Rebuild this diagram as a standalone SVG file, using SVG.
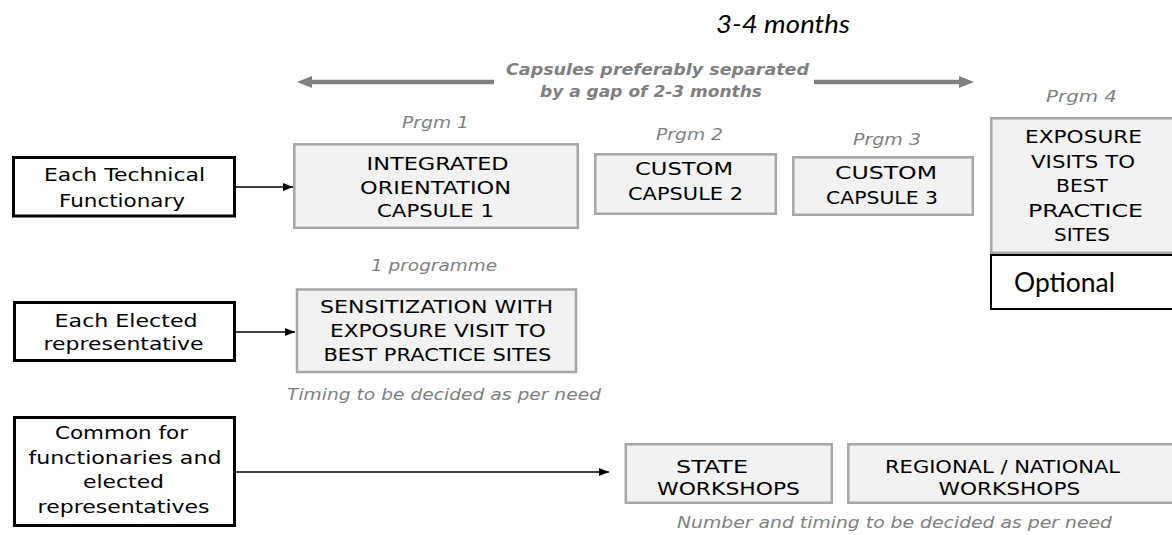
<svg xmlns="http://www.w3.org/2000/svg" width="1172" height="535" viewBox="0 0 1172 535">
<style>
.gbox{fill:#f2f2f2;stroke:#a6a6a6;stroke-width:2.5}
.wbox{fill:#ffffff;stroke:#000000;stroke-width:3}
.obox{fill:#ffffff;stroke:#000000;stroke-width:2}
.bt{font-family:"DejaVu Sans","Liberation Sans",sans-serif;font-size:18px;fill:#000000}
.lbl{font-family:"DejaVu Sans","Liberation Sans",sans-serif;font-style:italic;font-size:16.5px;fill:#7f7f7f}
.cap{font-family:"DejaVu Sans","Liberation Sans",sans-serif;font-style:italic;font-weight:bold;font-size:16px;fill:#7f7f7f}
.big{font-family:Lato,"Liberation Sans",sans-serif;font-style:italic;font-size:25px;fill:#000000}
.opt{font-family:Lato,"Liberation Sans",sans-serif;font-size:26px;fill:#000000}
.conn{stroke:#000000;stroke-width:1.5;fill:none}
.garr{stroke:#808080;stroke-width:4.5;fill:none}
</style>
<defs>
<marker id="ah" markerUnits="userSpaceOnUse" markerWidth="12" markerHeight="10" refX="10" refY="4" orient="auto">
<path d="M0,0 L10,4 L0,8 Z" fill="#000000"/>
</marker>
</defs>

<g id="timeline">
<text class="big" x="716" y="33" textLength="134" lengthAdjust="spacingAndGlyphs">3-4 months</text>
<line class="garr" x1="310" y1="82" x2="494" y2="82"/>
<polygon points="297,82 312,76 312,88" fill="#808080"/>
<line class="garr" x1="814" y1="82" x2="960" y2="82"/>
<polygon points="974,82 959,76 959,88" fill="#808080"/>
<text class="cap" x="506" y="75" textLength="303" lengthAdjust="spacingAndGlyphs">Capsules preferably separated</text>
<text class="cap" x="540" y="97" textLength="222" lengthAdjust="spacingAndGlyphs">by a gap of 2-3 months</text>
</g>

<g id="labels">
<text class="lbl" x="402" y="128" textLength="67" lengthAdjust="spacingAndGlyphs">Prgm 1</text>
<text class="lbl" x="656" y="140" textLength="67" lengthAdjust="spacingAndGlyphs">Prgm 2</text>
<text class="lbl" x="853" y="145" textLength="68" lengthAdjust="spacingAndGlyphs">Prgm 3</text>
<text class="lbl" x="1046" y="102" textLength="71" lengthAdjust="spacingAndGlyphs">Prgm 4</text>
<text class="lbl" x="371" y="271" textLength="126" lengthAdjust="spacingAndGlyphs">1 programme</text>
<text class="lbl" x="287" y="400" textLength="314" lengthAdjust="spacingAndGlyphs">Timing to be decided as per need</text>
<text class="lbl" x="677" y="528" textLength="435" lengthAdjust="spacingAndGlyphs">Number and timing to be decided as per need</text>
</g>

<g id="technical">
<rect class="wbox" x="13.5" y="157.5" width="221" height="58.5"/>
<text class="bt" x="44" y="181" textLength="161" lengthAdjust="spacingAndGlyphs">Each Technical</text>
<text class="bt" x="59" y="207" textLength="126" lengthAdjust="spacingAndGlyphs">Functionary</text>
</g>

<g id="elected">
<rect class="wbox" x="14.5" y="302.5" width="220" height="58"/>
<text class="bt" x="54.6" y="327" textLength="143" lengthAdjust="spacingAndGlyphs">Each Elected</text>
<text class="bt" x="43.5" y="350" textLength="160" lengthAdjust="spacingAndGlyphs">representative</text>
</g>

<g id="common">
<rect class="wbox" x="14.5" y="417.5" width="220" height="108"/>
<text class="bt" x="55" y="439" textLength="133" lengthAdjust="spacingAndGlyphs">Common for</text>
<text class="bt" x="28.5" y="463.5" textLength="193" lengthAdjust="spacingAndGlyphs">functionaries and</text>
<text class="bt" x="83" y="488" textLength="81" lengthAdjust="spacingAndGlyphs">elected</text>
<text class="bt" x="37.6" y="512.5" textLength="172" lengthAdjust="spacingAndGlyphs">representatives</text>
</g>

<g id="capsule1">
<rect class="gbox" x="294.3" y="144.3" width="283.5" height="83.5"/>
<text class="bt" x="366.6" y="170" textLength="142" lengthAdjust="spacingAndGlyphs">INTEGRATED</text>
<text class="bt" x="360" y="193.5" textLength="151" lengthAdjust="spacingAndGlyphs">ORIENTATION</text>
<text class="bt" x="377" y="217" textLength="117" lengthAdjust="spacingAndGlyphs">CAPSULE 1</text>
</g>

<g id="capsule2">
<rect class="gbox" x="595.3" y="154.3" width="180.5" height="59.5"/>
<text class="bt" x="635" y="175" textLength="98" lengthAdjust="spacingAndGlyphs">CUSTOM</text>
<text class="bt" x="628" y="200" textLength="115" lengthAdjust="spacingAndGlyphs">CAPSULE 2</text>
</g>

<g id="capsule3">
<rect class="gbox" x="793.3" y="157.3" width="179.5" height="57.5"/>
<text class="bt" x="835" y="179" textLength="102" lengthAdjust="spacingAndGlyphs">CUSTOM</text>
<text class="bt" x="826" y="204" textLength="112" lengthAdjust="spacingAndGlyphs">CAPSULE 3</text>
</g>

<g id="exposure">
<rect class="gbox" x="991.3" y="118.3" width="190" height="134.5"/>
<text class="bt" x="1025" y="143" textLength="117" lengthAdjust="spacingAndGlyphs">EXPOSURE</text>
<text class="bt" x="1031" y="167.5" textLength="104" lengthAdjust="spacingAndGlyphs">VISITS TO</text>
<text class="bt" x="1056" y="192" textLength="52" lengthAdjust="spacingAndGlyphs">BEST</text>
<text class="bt" x="1028" y="216.5" textLength="115" lengthAdjust="spacingAndGlyphs">PRACTICE</text>
<text class="bt" x="1054" y="241" textLength="56" lengthAdjust="spacingAndGlyphs">SITES</text>
</g>

<g id="optional">
<rect class="obox" x="991" y="255" width="190" height="54"/>
<text class="opt" x="1014" y="292" textLength="101" lengthAdjust="spacingAndGlyphs">Optional</text>
</g>

<g id="sensitization">
<rect class="gbox" x="297" y="289.5" width="279" height="82.5"/>
<text class="bt" x="320" y="313" textLength="233" lengthAdjust="spacingAndGlyphs">SENSITIZATION WITH</text>
<text class="bt" x="330" y="337" textLength="215.7" lengthAdjust="spacingAndGlyphs">EXPOSURE VISIT TO</text>
<text class="bt" x="323.4" y="361" textLength="228" lengthAdjust="spacingAndGlyphs">BEST PRACTICE SITES</text>
</g>

<g id="state">
<rect class="gbox" x="625.8" y="444.3" width="206" height="58.5"/>
<text class="bt" x="676" y="473" textLength="72" lengthAdjust="spacingAndGlyphs">STATE</text>
<text class="bt" x="657" y="495" textLength="143" lengthAdjust="spacingAndGlyphs">WORKSHOPS</text>
</g>

<g id="regional">
<rect class="gbox" x="848.3" y="444.3" width="330" height="58.5"/>
<text class="bt" x="885" y="473" textLength="235" lengthAdjust="spacingAndGlyphs">REGIONAL / NATIONAL</text>
<text class="bt" x="938.6" y="495" textLength="141.6" lengthAdjust="spacingAndGlyphs">WORKSHOPS</text>
</g>

<g id="connectors">
<line class="conn" x1="236" y1="187" x2="293" y2="187" marker-end="url(#ah)"/>
<line class="conn" x1="236" y1="332" x2="295" y2="332" marker-end="url(#ah)"/>
<line class="conn" x1="236" y1="472" x2="609" y2="472" marker-end="url(#ah)"/>
</g>
</svg>
